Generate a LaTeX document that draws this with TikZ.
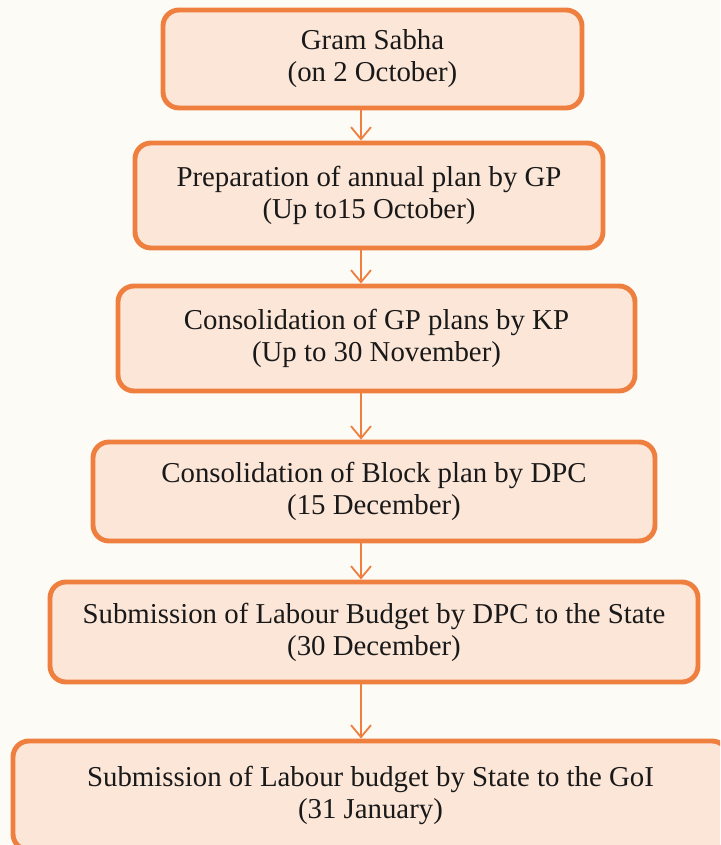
\documentclass[tikz,border=0pt]{standalone}
\usepackage{fontspec}
\setmainfont{Liberation Serif}
\usetikzlibrary{arrows.meta,positioning}

\definecolor{peach}{HTML}{FCE6D8}
\definecolor{rust}{HTML}{EE7F3E}
\definecolor{paper}{HTML}{FDFBF6}

\begin{document}
\begin{tikzpicture}[>={Straight Barb[length=0.3cm,width=0.5cm]},
   stage/.style={draw=rust, fill=peach, line width=3.5pt, rounded corners=0.4cm,
      align=center, text=black!90, font=\fontsize{20.5}{22.8}\selectfont},
   flow/.style={draw=rust, line width=1.3pt}]
   \useasboundingbox[fill=paper] (0,0) rectangle (18,21.125);
   \clip (0,0) rectangle (18,21.125);
   \coordinate (ax) at (9.025,0);
   \node (s0) at (9.3125,19.65) [stage, minimum width=10.475cm, minimum height=2.45cm] {Gram Sabha\\(on 2 October)};
   \node (s1) at (9.225,16.2375) [stage, minimum width=11.7cm, minimum height=2.625cm] {Preparation of annual plan by GP\\(Up to15 October)};
   \node (s2) at (9.4125,12.6625) [stage, minimum width=12.925cm, minimum height=2.625cm] {Consolidation of GP plans by KP\\(Up to 30 November)};
   \node (s3) at (9.35,8.8375) [stage, minimum width=14.05cm, minimum height=2.475cm] {Consolidation of Block plan by DPC\\(15 December)};
   \node (s4) at (9.35,5.325) [stage, minimum width=16.2cm, minimum height=2.5cm] {Submission of Labour Budget by DPC to the State\\(30 December)};
   \node (s5) at (9.2625,1.2375) [stage, minimum width=17.875cm, minimum height=2.725cm] {Submission of Labour budget by State to the GoI\\(31 January)};
   \draw[flow] (s0.south -| ax)[->] -- (s1.north -| ax);
   \draw[flow] (s1.south -| ax)[->] -- (s2.north -| ax);
   \draw[flow] (s2.south -| ax)[->] -- (s3.north -| ax);
   \draw[flow] (s3.south -| ax)[->] -- (s4.north -| ax);
   \draw[flow] (s4.south -| ax)[->] -- (s5.north -| ax);
\end{tikzpicture}
\end{document}
